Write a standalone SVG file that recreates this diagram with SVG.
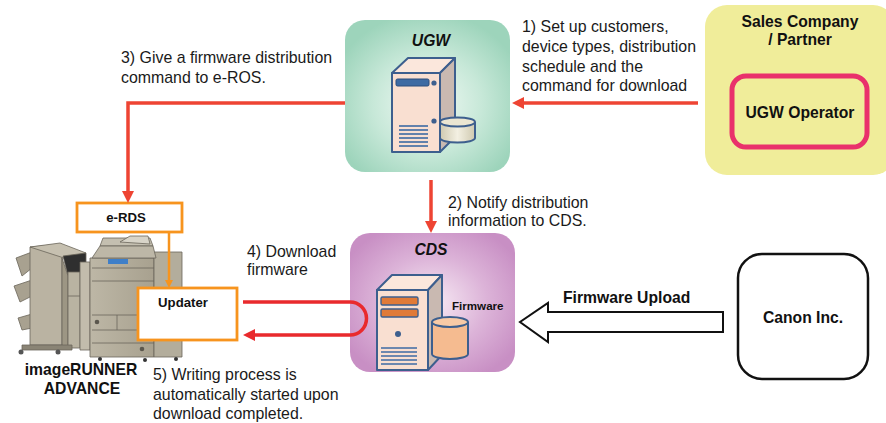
<svg xmlns="http://www.w3.org/2000/svg" width="886" height="423" viewBox="0 0 886 423">
  <style>
    .t { font-family: "Liberation Sans", Arial, sans-serif; font-size: 15.9px; fill: #1a1a1a; }
    .b { font-family: "Liberation Sans", Arial, sans-serif; font-weight: bold; fill: #111; }
    .bi { font-family: "Liberation Sans", Arial, sans-serif; font-weight: bold; font-style: italic; font-size: 15.7px; fill: #111; }
    .red { fill: none; stroke: #ee4433; stroke-width: 3.5; }
    .red2 { fill: none; stroke: #e92a2d; stroke-width: 3.5; }
    .org { fill: none; stroke: #f7941e; stroke-width: 2.5; }
    .box { fill: #fff; stroke: #f7941e; stroke-width: 2.8; }
    .srv { stroke: #3d5f8e; stroke-width: 2; stroke-linejoin: round; }
    .vent { stroke: #3d6aa3; stroke-width: 1.6; }
    .pr { stroke: #6b665a; stroke-width: 0.8; stroke-linejoin: round; }
  </style>
  <defs>
    <radialGradient id="gUgw" cx="0.5" cy="0.55" r="0.6">
      <stop offset="0" stop-color="#f3faf6"/>
      <stop offset="0.55" stop-color="#c7e8d8"/>
      <stop offset="1" stop-color="#9dd4bb"/>
    </radialGradient>
    <radialGradient id="gCds" cx="0.5" cy="0.5" r="0.6">
      <stop offset="0" stop-color="#f7eaf4"/>
      <stop offset="0.55" stop-color="#dcb3d8"/>
      <stop offset="1" stop-color="#c88fc4"/>
    </radialGradient>
    <linearGradient id="gDisk" x1="0" y1="0" x2="1" y2="0">
      <stop offset="0" stop-color="#cfc9b0"/>
      <stop offset="0.5" stop-color="#f3f0e2"/>
      <stop offset="1" stop-color="#cfc9b0"/>
    </linearGradient>
    <linearGradient id="gBody" x1="0" y1="0" x2="1" y2="0">
      <stop offset="0" stop-color="#bdb7a6"/>
      <stop offset="1" stop-color="#a8a18f"/>
    </linearGradient>
    <marker id="hRed" viewBox="0 0 12 12" refX="4" refY="6" markerWidth="12" markerHeight="12" markerUnits="userSpaceOnUse" orient="auto">
      <path d="M0,0 L12,6 L0,12 z" fill="#ee4433"/>
    </marker>
    <marker id="hRed2" viewBox="0 0 12 12" refX="4" refY="6" markerWidth="12" markerHeight="12" markerUnits="userSpaceOnUse" orient="auto">
      <path d="M0,0 L12,6 L0,12 z" fill="#e92a2d"/>
    </marker>
    <marker id="hOrg" viewBox="0 0 8 8" refX="3" refY="4" markerWidth="8" markerHeight="8" markerUnits="userSpaceOnUse" orient="auto">
      <path d="M0,0 L8,4 L0,8 z" fill="#f7941e"/>
    </marker>
  </defs>

  <rect width="886" height="423" fill="#fff"/>

  <!-- UGW server -->
  <g id="ugw">
    <rect x="345" y="20" width="165" height="152" rx="20" fill="url(#gUgw)"/>
    <text class="bi" x="431" y="46" text-anchor="middle">UGW</text>
    <polygon class="srv" points="392,73 408,58 455,58 440,73" fill="#fbe7dc"/>
    <polygon class="srv" points="440,73 455,58 455,137 440,152" fill="#c9b9b1"/>
    <rect class="srv" x="392" y="73" width="48" height="79" fill="#f9dfd1"/>
    <rect x="396" y="79" width="33" height="7" rx="1.5" fill="#3e6ba3" stroke="#2d4f7c" stroke-width="1"/>
    <circle cx="434" cy="83" r="2.6" fill="#3d5f8e"/>
    <circle cx="434" cy="121" r="2.6" fill="#3d5f8e"/>
    <g class="vent">
      <line x1="399" y1="126" x2="428" y2="126"/>
      <line x1="399" y1="130" x2="428" y2="130"/>
      <line x1="399" y1="134" x2="428" y2="134"/>
      <line x1="399" y1="138" x2="428" y2="138"/>
      <line x1="399" y1="142" x2="428" y2="142"/>
      <line x1="399" y1="146" x2="428" y2="146"/>
    </g>
    <path class="srv" d="M440,122 V138 A17.5,4.5 0 0 0 475,138 V122" fill="url(#gDisk)"/>
    <ellipse class="srv" cx="457.5" cy="122" rx="17.5" ry="4.5" fill="#ebe6d2"/>
  </g>

  <!-- Sales company / partner -->
  <g id="sales">
    <rect x="705" y="5" width="190" height="170" rx="22" fill="#f0ed9a"/>
    <text class="b" x="800" y="27" text-anchor="middle" font-size="15.7">Sales Company</text>
    <text class="b" x="800" y="45" text-anchor="middle" font-size="15.7">/ Partner</text>
  </g>
  <g id="ugw-operator">
    <rect x="732" y="76" width="135" height="71" rx="14" fill="#f0ed9a" stroke="#e9316b" stroke-width="5"/>
    <text class="b" x="800" y="118" text-anchor="middle" font-size="15.7">UGW Operator</text>
  </g>

  <!-- CDS server -->
  <g id="cds">
    <rect x="350" y="233" width="165" height="139" rx="20" fill="url(#gCds)"/>
    <text class="bi" x="431" y="255" text-anchor="middle">CDS</text>
    <polygon class="srv" points="377,290 392,275 442,275 428,290" fill="#fbe7dc"/>
    <polygon class="srv" points="428,290 442,275 442,355 428,370" fill="#c9b9b1"/>
    <rect class="srv" x="377" y="290" width="51" height="80" fill="#f9dfd1"/>
    <rect x="381" y="297" width="37" height="8" rx="1.5" fill="#e07a38" stroke="#3d5f8e" stroke-width="1.4"/>
    <rect x="381" y="309" width="37" height="8" rx="1.5" fill="#e07a38" stroke="#3d5f8e" stroke-width="1.4"/>
    <circle cx="398" cy="334" r="3" fill="#3d5f8e"/>
    <g class="vent">
      <line x1="381" y1="348" x2="417" y2="348"/>
      <line x1="381" y1="352" x2="417" y2="352"/>
      <line x1="381" y1="356" x2="417" y2="356"/>
      <line x1="381" y1="360" x2="417" y2="360"/>
      <line x1="381" y1="364" x2="417" y2="364"/>
    </g>
    <path class="srv" d="M432,322 V354 A18,5 0 0 0 468,354 V322" fill="#f5bb90"/>
    <ellipse class="srv" cx="450" cy="322" rx="18" ry="5" fill="#f8caa6"/>
    <text class="b" x="452" y="310" font-size="11.6">Firmware</text>
  </g>

  <!-- Canon Inc. -->
  <g id="canon">
    <rect x="738" y="254" width="130" height="125" rx="24" fill="#fff" stroke="#111" stroke-width="2.5"/>
    <text class="b" x="803" y="323" text-anchor="middle" font-size="15.7">Canon Inc.</text>
  </g>

  <!-- imageRUNNER ADVANCE device -->
  <g id="imagerunner">
    <!-- finisher trays -->
    <polygon class="pr" points="16,258 32,252 32,268 22,276" fill="#a8a190"/>
    <polygon class="pr" points="14,286 32,280 32,296 20,302" fill="#a8a190"/>
    <polygon class="pr" points="18,318 32,314 32,328 22,330" fill="#a8a190"/>
    <!-- finisher body -->
    <polygon class="pr" points="30,247 62,244 62,345 30,345" fill="#bab3a2"/>
    <polygon class="pr" points="30,247 60,243 86,253 64,258" fill="#c6c0b0"/>
    <polygon class="pr" points="63,256 86,253 86,272 68,276" fill="#2f2f2f"/>
    <polygon class="pr" points="62,258 68,276 68,348 62,345" fill="#9d9684"/>
    <rect class="pr" x="68" y="272" width="12" height="76" fill="#b9b3a2"/>
    <rect class="pr" x="80" y="262" width="10" height="88" fill="#c2bcac"/>
    <line class="pr" x1="68" y1="296" x2="80" y2="296"/>
    <!-- finisher base and casters -->
    <rect class="pr" x="22" y="345" width="50" height="5" fill="#8a8475"/>
    <circle cx="21" cy="352" r="2.5" fill="#555"/>
    <circle cx="58" cy="352" r="2.5" fill="#555"/>
    <!-- main body -->
    <rect class="pr" x="90" y="258" width="64" height="99" fill="url(#gBody)"/>
    <rect class="pr" x="154" y="252" width="28" height="105" fill="#b3ad9c"/>
    <!-- scanner / document feeder -->
    <polygon class="pr" points="100,246 103,238 150,238 153,246" fill="#c4bfb0"/>
    <polygon class="pr" points="92,258 100,246 153,246 156,258" fill="#bdb7a7"/>
    <polygon class="pr" points="120,242 130,236 148,236 150,244" fill="#d8d4c8"/>
    <rect x="108" y="259" width="20" height="5" fill="#3f7fc8"/>
    <line class="pr" x1="92" y1="268" x2="154" y2="268"/>
    <line class="pr" x1="92" y1="281" x2="154" y2="281"/>
    <!-- paper drawers -->
    <line class="pr" x1="92" y1="315" x2="154" y2="315"/>
    <line class="pr" x1="92" y1="330" x2="154" y2="330"/>
    <line class="pr" x1="92" y1="343" x2="154" y2="343"/>
    <line class="pr" x1="117" y1="315" x2="117" y2="330"/>
    <circle cx="97" cy="322" r="2.3" fill="#5b574d"/>
    <circle cx="142" cy="336" r="2.3" fill="#5b574d"/>
    <circle cx="142" cy="349" r="2.3" fill="#5b574d"/>
    <circle cx="100" cy="359" r="2" fill="#333"/>
    <circle cx="145" cy="360" r="2" fill="#333"/>
    <circle cx="176" cy="359" r="2" fill="#333"/>
    <text class="b" x="81" y="375" text-anchor="middle" font-size="15.7">imageRUNNER</text>
    <text class="b" x="82" y="394" text-anchor="middle" font-size="15.7">ADVANCE</text>
  </g>

  <!-- e-RDS -->
  <g id="e-rds">
    <rect class="box" x="77" y="203" width="105" height="29"/>
    <text class="b" x="126" y="222" text-anchor="middle" font-size="13.2">e-RDS</text>
  </g>

  <!-- Updater -->
  <g id="updater">
    <rect class="box" x="138" y="288" width="99" height="52"/>
    <text class="b" x="183" y="307" text-anchor="middle" font-size="13.2">Updater</text>
  </g>

  <!-- connectors -->
  <g id="connectors">
    <path class="red" d="M698,103 H520" marker-end="url(#hRed)"/>
    <path class="red" d="M345,103 H128 V195" marker-end="url(#hRed)"/>
    <path class="red" d="M431,180 V225" marker-end="url(#hRed)"/>
    <path class="org" d="M169,232 V283" marker-end="url(#hOrg)"/>
    <path class="red2" d="M243,302 H350 A16.5,16.5 0 0 1 350,335 H251" marker-end="url(#hRed2)"/>
    <polygon points="723,312 548,312 548,303 520,322 548,342 548,332 723,332" fill="#fff" stroke="#111" stroke-width="2"/>
  </g>

  <!-- step labels -->
  <g id="labels">
    <text class="t" x="522" y="32">1) Set up customers,</text>
    <text class="t" x="522" y="52">device types, distribution</text>
    <text class="t" x="522" y="71.5">schedule and the</text>
    <text class="t" x="522" y="91">command for download</text>
    <text class="t" x="448" y="207.5">2) Notify distribution</text>
    <text class="t" x="448" y="226">information to CDS.</text>
    <text class="t" x="121" y="63">3) Give a firmware distribution</text>
    <text class="t" x="121" y="83">command to e-ROS.</text>
    <text class="t" x="247" y="257">4) Download</text>
    <text class="t" x="247" y="275">firmware</text>
    <text class="t" x="153" y="380">5) Writing process is</text>
    <text class="t" x="153" y="399.5">automatically started upon</text>
    <text class="t" x="153" y="419">download completed.</text>
    <text class="b" x="563" y="303" font-size="15.7">Firmware Upload</text>
  </g>
</svg>
